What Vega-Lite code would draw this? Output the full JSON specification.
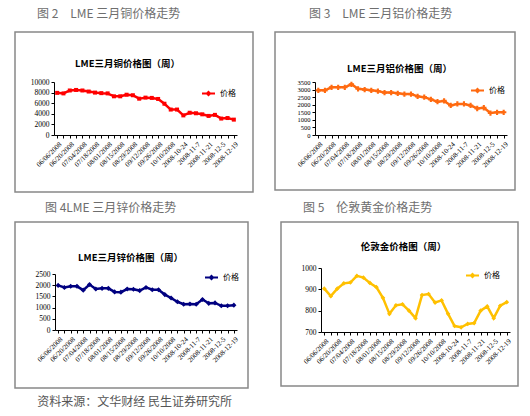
{
  "$schema": "https://vega.github.io/schema/vega-lite/v6.json",
  "background": "white",
  "padding": {"left": 14, "top": 7, "right": 5, "bottom": 4},
  "title": {"text": "资料来源：文华财经 民生证券研究所", "orient": "bottom", "anchor": "start", "dx": 23, "offset": 8, "fontSize": 12, "color": "#555555", "font": "Noto Sans CJK SC", "fontWeight": "normal"},
  "data": {"values": [
    {"week": "06/06/2008", "cu": 7950, "al": 2950, "zn": 1990, "au": 903},
    {"week": "06/13/2008", "cu": 7850, "al": 2950, "zn": 1900, "au": 868},
    {"week": "06/20/2008", "cu": 8400, "al": 3150, "zn": 1950, "au": 903},
    {"week": "06/27/2008", "cu": 8500, "al": 3150, "zn": 1950, "au": 928},
    {"week": "07/04/2008", "cu": 8400, "al": 3150, "zn": 1780, "au": 932},
    {"week": "07/11/2008", "cu": 8200, "al": 3350, "zn": 2030, "au": 963},
    {"week": "07/18/2008", "cu": 8000, "al": 3050, "zn": 1830, "au": 955},
    {"week": "07/25/2008", "cu": 7900, "al": 3000, "zn": 1860, "au": 930},
    {"week": "08/01/2008", "cu": 7850, "al": 2950, "zn": 1860, "au": 910},
    {"week": "08/08/2008", "cu": 7300, "al": 2900, "zn": 1700, "au": 860},
    {"week": "08/15/2008", "cu": 7300, "al": 2800, "zn": 1690, "au": 785},
    {"week": "08/22/2008", "cu": 7600, "al": 2800, "zn": 1830, "au": 825},
    {"week": "08/29/2008", "cu": 7500, "al": 2750, "zn": 1820, "au": 830},
    {"week": "09/05/2008", "cu": 6850, "al": 2700, "zn": 1760, "au": 800},
    {"week": "09/12/2008", "cu": 7050, "al": 2700, "zn": 1900, "au": 765},
    {"week": "09/19/2008", "cu": 7000, "al": 2550, "zn": 1800, "au": 873},
    {"week": "09/26/2008", "cu": 6800, "al": 2500, "zn": 1800, "au": 878},
    {"week": "10/03/2008", "cu": 5900, "al": 2350, "zn": 1580, "au": 838},
    {"week": "10/10/2008", "cu": 4800, "al": 2200, "zn": 1430, "au": 848},
    {"week": "2008-10-17", "cu": 4800, "al": 2250, "zn": 1260, "au": 785},
    {"week": "2008-10-24", "cu": 3700, "al": 1950, "zn": 1150, "au": 728},
    {"week": "2008-10-31", "cu": 4200, "al": 2050, "zn": 1160, "au": 722},
    {"week": "2008-11-7", "cu": 4100, "al": 2050, "zn": 1150, "au": 738},
    {"week": "2008-11-14", "cu": 3900, "al": 1950, "zn": 1360, "au": 742},
    {"week": "2008-11-21", "cu": 3600, "al": 1750, "zn": 1190, "au": 800},
    {"week": "2008-11-28", "cu": 3800, "al": 1800, "zn": 1210, "au": 820},
    {"week": "2008-12-5", "cu": 3100, "al": 1450, "zn": 1080, "au": 765},
    {"week": "2008-12-12", "cu": 3200, "al": 1500, "zn": 1080, "au": 823},
    {"week": "2008-12-19", "cu": 2900, "al": 1500, "zn": 1110, "au": 840}
  ]},
  "config": {
    "view": {"stroke": "#888888", "strokeWidth": 1.5, "fill": "white"},
    "title": {"font": "Noto Sans CJK SC", "fontSize": 12, "fontWeight": "normal", "color": "#6e6e6e", "anchor": "start", "offset": 7},
    "axis": {"grid": false, "domainColor": "#000000", "tickColor": "#000000", "labelColor": "#000000", "tickSize": 3, "labelPadding": 2, "labelOverlap": false, "labelFlush": false, "labelFont": "Liberation Serif", "labelFontSize": 7.5},
    "axisX": {"labelAngle": -45, "labelFontSize": 7, "labelExpr": "round(datum.index * 28) % 2 == 1 ? '' : datum.label"},
    "axisY": {"titleAngle": 0, "titleAlign": "center", "titleBaseline": "middle", "titleFont": "Noto Sans CJK SC", "titleFontWeight": "bold", "titleFontSize": 9.5, "titleColor": "#000000"},
    "legend": {"orient": "none", "padding": 0, "title": null, "labelFont": "Noto Sans CJK SC", "labelFontSize": 8, "labelColor": "#000000", "symbolType": "M-1,0H1M0,-0.25L0.25,0L0,0.25L-0.25,0Z", "symbolSize": 169, "symbolStrokeWidth": 2}
  },
  "resolve": {"scale": {"color": "independent"}, "legend": {"color": "independent"}},
  "spacing": 8,
  "vconcat": [
    {
      "resolve": {"scale": {"color": "independent", "x": "independent", "y": "independent"}, "legend": {"color": "independent"}},
      "spacing": 20,
      "hconcat": [
        {
          "title": {"text": "图 2　LME 三月铜价格走势", "dx": 22, "offset": 11},
          "width": 238, "height": 160,
          "encoding": {
            "x": {"field": "week", "type": "ordinal", "sort": null, "scale": {"type": "point", "range": [39, 222], "padding": 0.5}, "axis": {"title": null, "offset": -57}},
            "y": {"field": "cu", "type": "quantitative", "scale": {"domain": [0, 10000], "range": [103, 50], "nice": false, "zero": false}, "axis": {"title": "LME三月铜价格图（周）", "titleX": 73, "titleY": 31, "offset": -39, "values": [0, 2000, 4000, 6000, 8000, 10000], "format": "d"}},
            "color": {"datum": "价格", "scale": {"range": ["#ff0000"]}, "legend": {"legendX": 186, "legendY": 54, "symbolStrokeColor": "#ff0000", "symbolFillColor": "#ff0000"}}
          },
          "layer": [
            {"mark": {"type": "line", "strokeWidth": 2.5}},
            {"mark": {"type": "point", "shape": "square", "filled": true, "size": 16, "opacity": 1}}
          ]
        },
        {
          "title": {"text": "图 3　LME 三月铝价格走势", "dx": 34, "offset": 11},
          "width": 240, "height": 158,
          "encoding": {
            "x": {"field": "week", "type": "ordinal", "sort": null, "scale": {"type": "point", "range": [40, 232], "padding": 0.5}, "axis": {"title": null, "offset": -55}},
            "y": {"field": "al", "type": "quantitative", "scale": {"domain": [0, 3500], "range": [103, 50], "nice": false, "zero": false}, "axis": {"title": "LME三月铝价格图（周）", "titleX": 84, "titleY": 36, "offset": -40, "values": [0, 500, 1000, 1500, 2000, 2500, 3000, 3500], "format": "d", "labelFontSize": 6.5}},
            "color": {"datum": "价格", "scale": {"range": ["#ff6a10"]}, "legend": {"legendX": 195, "legendY": 51, "symbolStrokeColor": "#ff6a10", "symbolFillColor": "#ff6a10"}}
          },
          "layer": [
            {"mark": {"type": "line", "strokeWidth": 2.5}},
            {"mark": {"type": "point", "shape": "cross", "filled": true, "size": 28, "opacity": 1}}
          ]
        }
      ]
    },
    {
      "resolve": {"scale": {"color": "independent", "x": "independent", "y": "independent"}, "legend": {"color": "independent"}},
      "spacing": 31,
      "hconcat": [
        {
          "title": {"text": "图 4LME 三月锌价格走势", "dx": 30},
          "width": 233, "height": 166,
          "encoding": {
            "x": {"field": "week", "type": "ordinal", "sort": null, "scale": {"type": "point", "range": [40, 222], "padding": 0.5}, "axis": {"title": null, "offset": -58}},
            "y": {"field": "zn", "type": "quantitative", "scale": {"domain": [0, 2500], "range": [108, 52], "nice": false, "zero": false}, "axis": {"title": "LME三月锌价格图（周）", "titleX": 75, "titleY": 35, "offset": -40, "values": [0, 500, 1000, 1500, 2000, 2500], "format": "d"}},
            "color": {"datum": "价格", "scale": {"range": ["#000080"]}, "legend": {"legendX": 189, "legendY": 48, "symbolStrokeColor": "#000080", "symbolFillColor": "#000080"}}
          },
          "layer": [
            {"mark": {"type": "line", "strokeWidth": 2.5}},
            {"mark": {"type": "point", "shape": "diamond", "filled": true, "size": 26, "opacity": 1}}
          ]
        },
        {
          "title": {"text": "图 5　伦敦黄金价格走势", "dx": 22},
          "width": 237, "height": 164,
          "encoding": {
            "x": {"field": "week", "type": "ordinal", "sort": null, "scale": {"type": "point", "range": [40, 229], "padding": 0.5}, "axis": {"title": null, "offset": -54}},
            "y": {"field": "au", "type": "quantitative", "scale": {"domain": [700, 1000], "range": [110, 46], "nice": false, "zero": false}, "axis": {"title": "伦敦金价格图（周）", "titleX": 82, "titleY": 24, "offset": -40, "values": [700, 800, 900, 1000], "format": "d"}},
            "color": {"datum": "价格", "scale": {"range": ["#ffc000"]}, "legend": {"legendX": 184, "legendY": 46, "symbolStrokeColor": "#ffc000", "symbolFillColor": "#ffc000"}}
          },
          "layer": [
            {"mark": {"type": "line", "strokeWidth": 2.5}},
            {"mark": {"type": "point", "shape": "diamond", "filled": true, "size": 22, "opacity": 1}}
          ]
        }
      ]
    }
  ]
}
